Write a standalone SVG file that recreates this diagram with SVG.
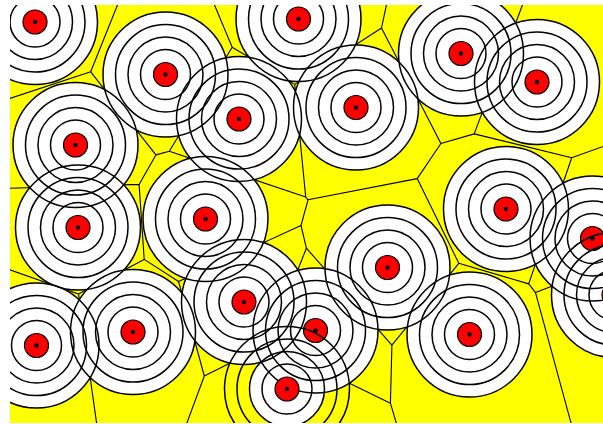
<svg xmlns="http://www.w3.org/2000/svg" xmlns:xlink="http://www.w3.org/1999/xlink" width="603" height="424" viewBox="0 0 603 424">
<style>
.edge{stroke:#000;stroke-width:1.1;fill:none}
</style>
<defs>
<clipPath id="frame"><rect x="10" y="5" width="593" height="418"/></clipPath>
<circle id="disc" r="62.5" fill="#fff"/>
<g id="rings" fill="none" stroke="#000" stroke-width="1.5"><circle r="25"/><circle r="37.5"/><circle r="50"/><circle r="62.5"/></g>
<g id="core"><circle r="12" fill="#ff0000" stroke="#000" stroke-width="1.2"/><circle r="2.2" fill="#000"/></g>
</defs>
<rect width="603" height="424" fill="#fff"/>
<g clip-path="url(#frame)">
<rect x="10" y="5" width="593" height="418" fill="#ffff00"/>
<g id="connectors" class="edge">
<path d="M90.7,71.8L119.5,0M90.7,71.8L0,101.7M90.7,71.8L155.9,154.9M232.2,47.3L212.4,0M232.2,47.3L294.7,84.4M232.2,47.3L169.3,151.3M294.7,84.4L381.5,28M294.7,84.4L305.7,197M381.5,28L387.5,0M381.5,28L440.9,143.5M440.9,143.5L474.2,133.9M440.9,143.5L417.2,178.6M474.2,133.9L524.3,0M474.2,133.9L571.7,157.8M571.7,157.8L610,144M571.7,157.8L528.7,283.9M528.7,283.9L458.8,263.3M528.7,283.9L535.5,292.6M535.5,292.6L610,264M535.5,292.6L571.3,424M458.8,263.3L417.2,178.6M458.8,263.3L391.9,345.2M417.2,178.6L308,199.8M169.3,151.3L305.7,197M305.7,197L308,199.8M308,199.8L301,225.5M301,225.5L178.6,281.5M301,225.5L306.4,248.2M306.4,248.2L391.9,345.2M306.4,248.2L268.6,343.8M391.9,345.2L390.4,403.2M268.6,343.8L390.4,403.2M390.4,403.2L396.6,424M268.6,343.8L204.3,376M204.3,376L178.6,281.5M204.3,376L186.5,424M155.9,154.9L169.3,151.3M155.9,154.9L139.1,184.4M139.1,184.4L0,188.6M139.1,184.4L144.2,259.4M144.2,259.4L178.6,281.5M144.2,259.4L78.5,294M78.5,294L0,266.4M78.5,294L96.7,424"/>
</g>
<g id="discs">
<use xlink:href="#disc" x="35" y="22"/><use xlink:href="#disc" x="165.5" y="74.5"/><use xlink:href="#disc" x="298.5" y="19"/><use xlink:href="#disc" x="461" y="53.5"/><use xlink:href="#disc" x="537" y="82"/><use xlink:href="#disc" x="239" y="119"/><use xlink:href="#disc" x="356" y="107.5"/><use xlink:href="#disc" x="75.5" y="145"/><use xlink:href="#disc" x="78" y="227.5"/><use xlink:href="#disc" x="205.5" y="219"/><use xlink:href="#disc" x="506" y="209"/><use xlink:href="#disc" x="592.5" y="238.5"/><use xlink:href="#disc" x="387.5" y="267.5"/><use xlink:href="#disc" x="244" y="302"/><use xlink:href="#disc" x="315.5" y="330.5"/><use xlink:href="#disc" x="36.5" y="345.5"/><use xlink:href="#disc" x="133" y="332"/><use xlink:href="#disc" x="469.5" y="334.5"/><use xlink:href="#disc" x="614" y="295"/>
<circle cx="287" cy="389" r="37.5" fill="#fff"/>
</g>
<g id="site-a"><use xlink:href="#rings" x="35" y="22"/><use xlink:href="#core" x="35" y="22"/></g>
<g id="site-b"><use xlink:href="#rings" x="165.5" y="74.5"/><use xlink:href="#core" x="165.5" y="74.5"/></g>
<g id="site-c"><use xlink:href="#rings" x="298.5" y="19"/><use xlink:href="#core" x="298.5" y="19"/></g>
<g id="site-d"><use xlink:href="#rings" x="461" y="53.5"/><use xlink:href="#core" x="461" y="53.5"/></g>
<g id="site-e"><use xlink:href="#rings" x="537" y="82"/><use xlink:href="#core" x="537" y="82"/></g>
<g id="site-f"><use xlink:href="#rings" x="239" y="119"/><use xlink:href="#core" x="239" y="119"/></g>
<g id="site-g"><use xlink:href="#rings" x="356" y="107.5"/><use xlink:href="#core" x="356" y="107.5"/></g>
<g id="site-h"><use xlink:href="#rings" x="75.5" y="145"/><use xlink:href="#core" x="75.5" y="145"/></g>
<g id="site-i"><use xlink:href="#rings" x="78" y="227.5"/><use xlink:href="#core" x="78" y="227.5"/></g>
<g id="site-j"><use xlink:href="#rings" x="205.5" y="219"/><use xlink:href="#core" x="205.5" y="219"/></g>
<g id="site-k"><use xlink:href="#rings" x="506" y="209"/><use xlink:href="#core" x="506" y="209"/></g>
<g id="site-l"><use xlink:href="#rings" x="592.5" y="238.5"/><use xlink:href="#core" x="592.5" y="238.5"/></g>
<g id="site-m"><use xlink:href="#rings" x="387.5" y="267.5"/><use xlink:href="#core" x="387.5" y="267.5"/></g>
<g id="site-n"><use xlink:href="#rings" x="244" y="302"/><use xlink:href="#core" x="244" y="302"/></g>
<g id="site-o"><use xlink:href="#rings" x="315.5" y="330.5"/><use xlink:href="#core" x="315.5" y="330.5"/></g>
<g id="site-p"><use xlink:href="#rings" x="36.5" y="345.5"/><use xlink:href="#core" x="36.5" y="345.5"/></g>
<g id="site-q"><use xlink:href="#rings" x="133" y="332"/><use xlink:href="#core" x="133" y="332"/></g>
<g id="site-r"><use xlink:href="#rings" x="469.5" y="334.5"/><use xlink:href="#core" x="469.5" y="334.5"/></g>
<g id="site-t"><use xlink:href="#rings" x="614" y="295"/><use xlink:href="#core" x="614" y="295"/></g>
<g id="site-s"><use xlink:href="#rings" x="287" y="389"/><use xlink:href="#core" x="287" y="389"/></g>
</g>
</svg>
